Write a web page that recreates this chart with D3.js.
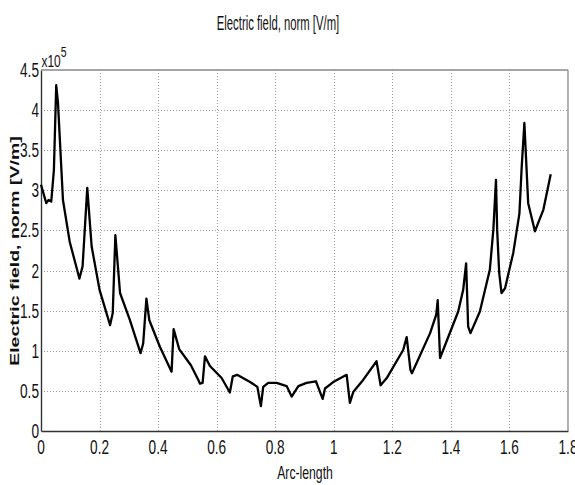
<!DOCTYPE html>
<html>
<head>
<meta charset="utf-8">
<script src="https://cdn.jsdelivr.net/npm/d3@7/dist/d3.min.js"></script>
<style>
body { margin: 0; background: #fff; }
svg { display: block; font-family: "Liberation Sans", Arial, sans-serif; }
</style>
</head>
<body>
<div id="chart"></div>
<script>
'use strict';

// arc-length along the boundary
var arcLength = [
    0.000, 0.018, 0.026, 0.035, 0.044, 0.052, 0.058, 0.075, 0.098, 0.124,
    0.131, 0.142, 0.158, 0.173, 0.200, 0.236, 0.245, 0.254, 0.270, 0.304,
    0.340, 0.349, 0.360, 0.370, 0.406, 0.446, 0.453, 0.472, 0.512, 0.537,
    0.543, 0.552, 0.560, 0.577, 0.617, 0.645, 0.655, 0.670, 0.714, 0.739,
    0.751, 0.759, 0.776, 0.805, 0.839, 0.856, 0.879, 0.907, 0.939, 0.962,
    0.970, 0.998, 1.044, 1.055, 1.067, 1.101, 1.146, 1.160, 1.181, 1.237,
    1.249, 1.262, 1.267, 1.329, 1.350, 1.355, 1.363, 1.425, 1.442, 1.452,
    1.459, 1.467, 1.499, 1.533, 1.545, 1.554, 1.558, 1.565, 1.573, 1.585,
    1.613, 1.634, 1.642, 1.651, 1.664, 1.687, 1.716, 1.741
];

// electric field norm, in units of 1e5 V/m
var fieldNorm = [
    3.07, 2.84, 2.88, 2.86, 3.25, 4.31, 4.09, 2.88, 2.36, 2.00,
    1.90, 2.05, 3.03, 2.30, 1.76, 1.32, 1.47, 2.44, 1.72, 1.38,
    0.97, 1.09, 1.65, 1.38, 1.05, 0.74, 1.27, 1.02, 0.82, 0.64,
    0.59, 0.60, 0.93, 0.81, 0.66, 0.48, 0.68, 0.70, 0.61, 0.55,
    0.31, 0.55, 0.60, 0.60, 0.56, 0.43, 0.56, 0.60, 0.62, 0.40,
    0.53, 0.61, 0.70, 0.35, 0.49, 0.64, 0.87, 0.57, 0.66, 1.01,
    1.17, 0.76, 0.72, 1.22, 1.45, 1.63, 0.91, 1.49, 1.76, 2.09,
    1.30, 1.22, 1.49, 2.01, 2.51, 3.13, 2.51, 1.97, 1.72, 1.78,
    2.22, 2.71, 3.30, 3.84, 2.84, 2.49, 2.76, 3.20
];

var xTicks = [0, 0.2, 0.4, 0.6, 0.8, 1, 1.2, 1.4, 1.6, 1.8];
var xTickLabels = ['0', '0.2', '0.4', '0.6', '0.8', '1', '1.2', '1.4', '1.6', '1.8'];
var yTicks = [0, 0.5, 1, 1.5, 2, 2.5, 3, 3.5, 4, 4.5];
var yTickLabels = ['0', '0.5', '1', '1.5', '2', '2.5', '3', '3.5', '4', '4.5'];

var titleText = 'Electric field, norm [V/m]';
var xLabelText = 'Arc-length';
var yLabelText = 'Electric field, norm [V/m]';

var width = 575, height = 485;
var margin = {top: 70, right: 7, bottom: 54, left: 41};
var innerW = width - margin.left - margin.right;
var innerH = height - margin.top - margin.bottom;

// the picture is squeezed horizontally, so is every glyph
var squeeze = 0.7;

var svg = d3.select('#chart')
    .append('svg')
    .attr('width', width)
    .attr('height', height);

var x = d3.scaleLinear().domain([0, 1.8]).range([margin.left, margin.left + innerW]);
var y = d3.scaleLinear().domain([0, 4.5]).range([margin.top + innerH, margin.top]);

// snap to the pixel grid so the dotted grid stays crisp
var px = function (v) { return Math.round(v) + 0.5; };

var squeezedText = function (sel, tx, ty, sx) {
    return sel.attr('transform', 'translate(' + tx + ',' + ty + ') scale(' + (sx || squeeze) + ',1)');
};

// grid
var grid = svg.append('g')
    .attr('class', 'grid')
    .attr('shape-rendering', 'crispEdges');

grid.selectAll('line.vgrid')
    .data(xTicks.slice(1, -1))
    .enter()
    .append('line')
    .attr('class', 'vgrid')
    .attr('x1', function (d) { return px(x(d)); })
    .attr('x2', function (d) { return px(x(d)); })
    .attr('y1', y(0))
    .attr('y2', y(4.5))
    .attr('stroke', '#9a9a9a')
    .attr('stroke-width', 1)
    .attr('stroke-dasharray', '1,2');

grid.selectAll('line.hgrid')
    .data(yTicks.slice(1, -1))
    .enter()
    .append('line')
    .attr('class', 'hgrid')
    .attr('x1', x(0))
    .attr('x2', x(1.8))
    .attr('y1', function (d) { return px(y(d)); })
    .attr('y2', function (d) { return px(y(d)); })
    .attr('stroke', '#9a9a9a')
    .attr('stroke-width', 1)
    .attr('stroke-dasharray', '1,2');

// axes, drawn with d3-axis then restyled
var xAxis = svg.append('g')
    .attr('transform', 'translate(0,' + y(0) + ')')
    .call(d3.axisBottom(x).tickValues(xTicks).tickSize(0).tickFormat(''));
var yAxis = svg.append('g')
    .attr('transform', 'translate(' + x(0) + ',0)')
    .call(d3.axisLeft(y).tickValues(yTicks).tickSize(0).tickFormat(''));
xAxis.select('.domain').attr('stroke', '#333').attr('stroke-width', 1.4);
yAxis.select('.domain').attr('stroke', '#333').attr('stroke-width', 1.4);

// top and right edges of the box
svg.append('line')
    .attr('x1', x(0)).attr('x2', x(1.8))
    .attr('y1', y(4.5)).attr('y2', y(4.5))
    .attr('stroke', '#888').attr('stroke-width', 1.3);
svg.append('line')
    .attr('x1', x(1.8)).attr('x2', x(1.8))
    .attr('y1', y(4.5)).attr('y2', y(0))
    .attr('stroke', '#888').attr('stroke-width', 1.3);

// tick labels
svg.selectAll('text.xtick')
    .data(xTicks)
    .enter()
    .append('text')
    .attr('class', 'xtick')
    .attr('text-anchor', 'middle')
    .attr('font-size', 19.5)
    .attr('fill', '#111')
    .each(function (d) { squeezedText(d3.select(this), x(d), y(0) + 23); })
    .text(function (d, i) { return xTickLabels[i]; });

svg.selectAll('text.ytick')
    .data(yTicks)
    .enter()
    .append('text')
    .attr('class', 'ytick')
    .attr('text-anchor', 'end')
    .attr('font-size', 19.5)
    .attr('fill', '#111')
    .each(function (d) { squeezedText(d3.select(this), x(0) - 2, y(d) + 7); })
    .text(function (d, i) { return yTickLabels[i]; });

// exponent
var expo = svg.append('text')
    .attr('font-size', 17)
    .attr('fill', '#111');
squeezedText(expo, x(0) + 0.5, margin.top - 3);
expo.append('tspan').text('x10');
expo.append('tspan').attr('dy', -10).attr('font-size', 15).text('5');

// title
var title = svg.append('text')
    .attr('text-anchor', 'middle')
    .attr('font-size', 19.5)
    .attr('fill', '#111')
    .text(titleText);
squeezedText(title, 278, 30, 0.58);

// x label
var xLabel = svg.append('text')
    .attr('text-anchor', 'middle')
    .attr('font-size', 18.5)
    .attr('fill', '#111')
    .text(xLabelText);
squeezedText(xLabel, 305, 479, 0.66);

// y label, bold and rotated
svg.append('text')
    .attr('text-anchor', 'middle')
    .attr('font-size', 19.5)
    .attr('font-weight', 'bold')
    .attr('fill', '#111')
    .attr('transform', 'translate(19,251) scale(' + squeeze + ',1) rotate(-90)')
    .text(yLabelText);

// the curve
var line = d3.line()
    .x(function (d) { return x(d[0]); })
    .y(function (d) { return y(d[1]); });

svg.append('path')
    .datum(d3.zip(arcLength, fieldNorm))
    .attr('d', line)
    .attr('fill', 'none')
    .attr('stroke', '#000')
    .attr('stroke-width', 2.3)
    .attr('stroke-linejoin', 'round');
</script>
</body>
</html>
